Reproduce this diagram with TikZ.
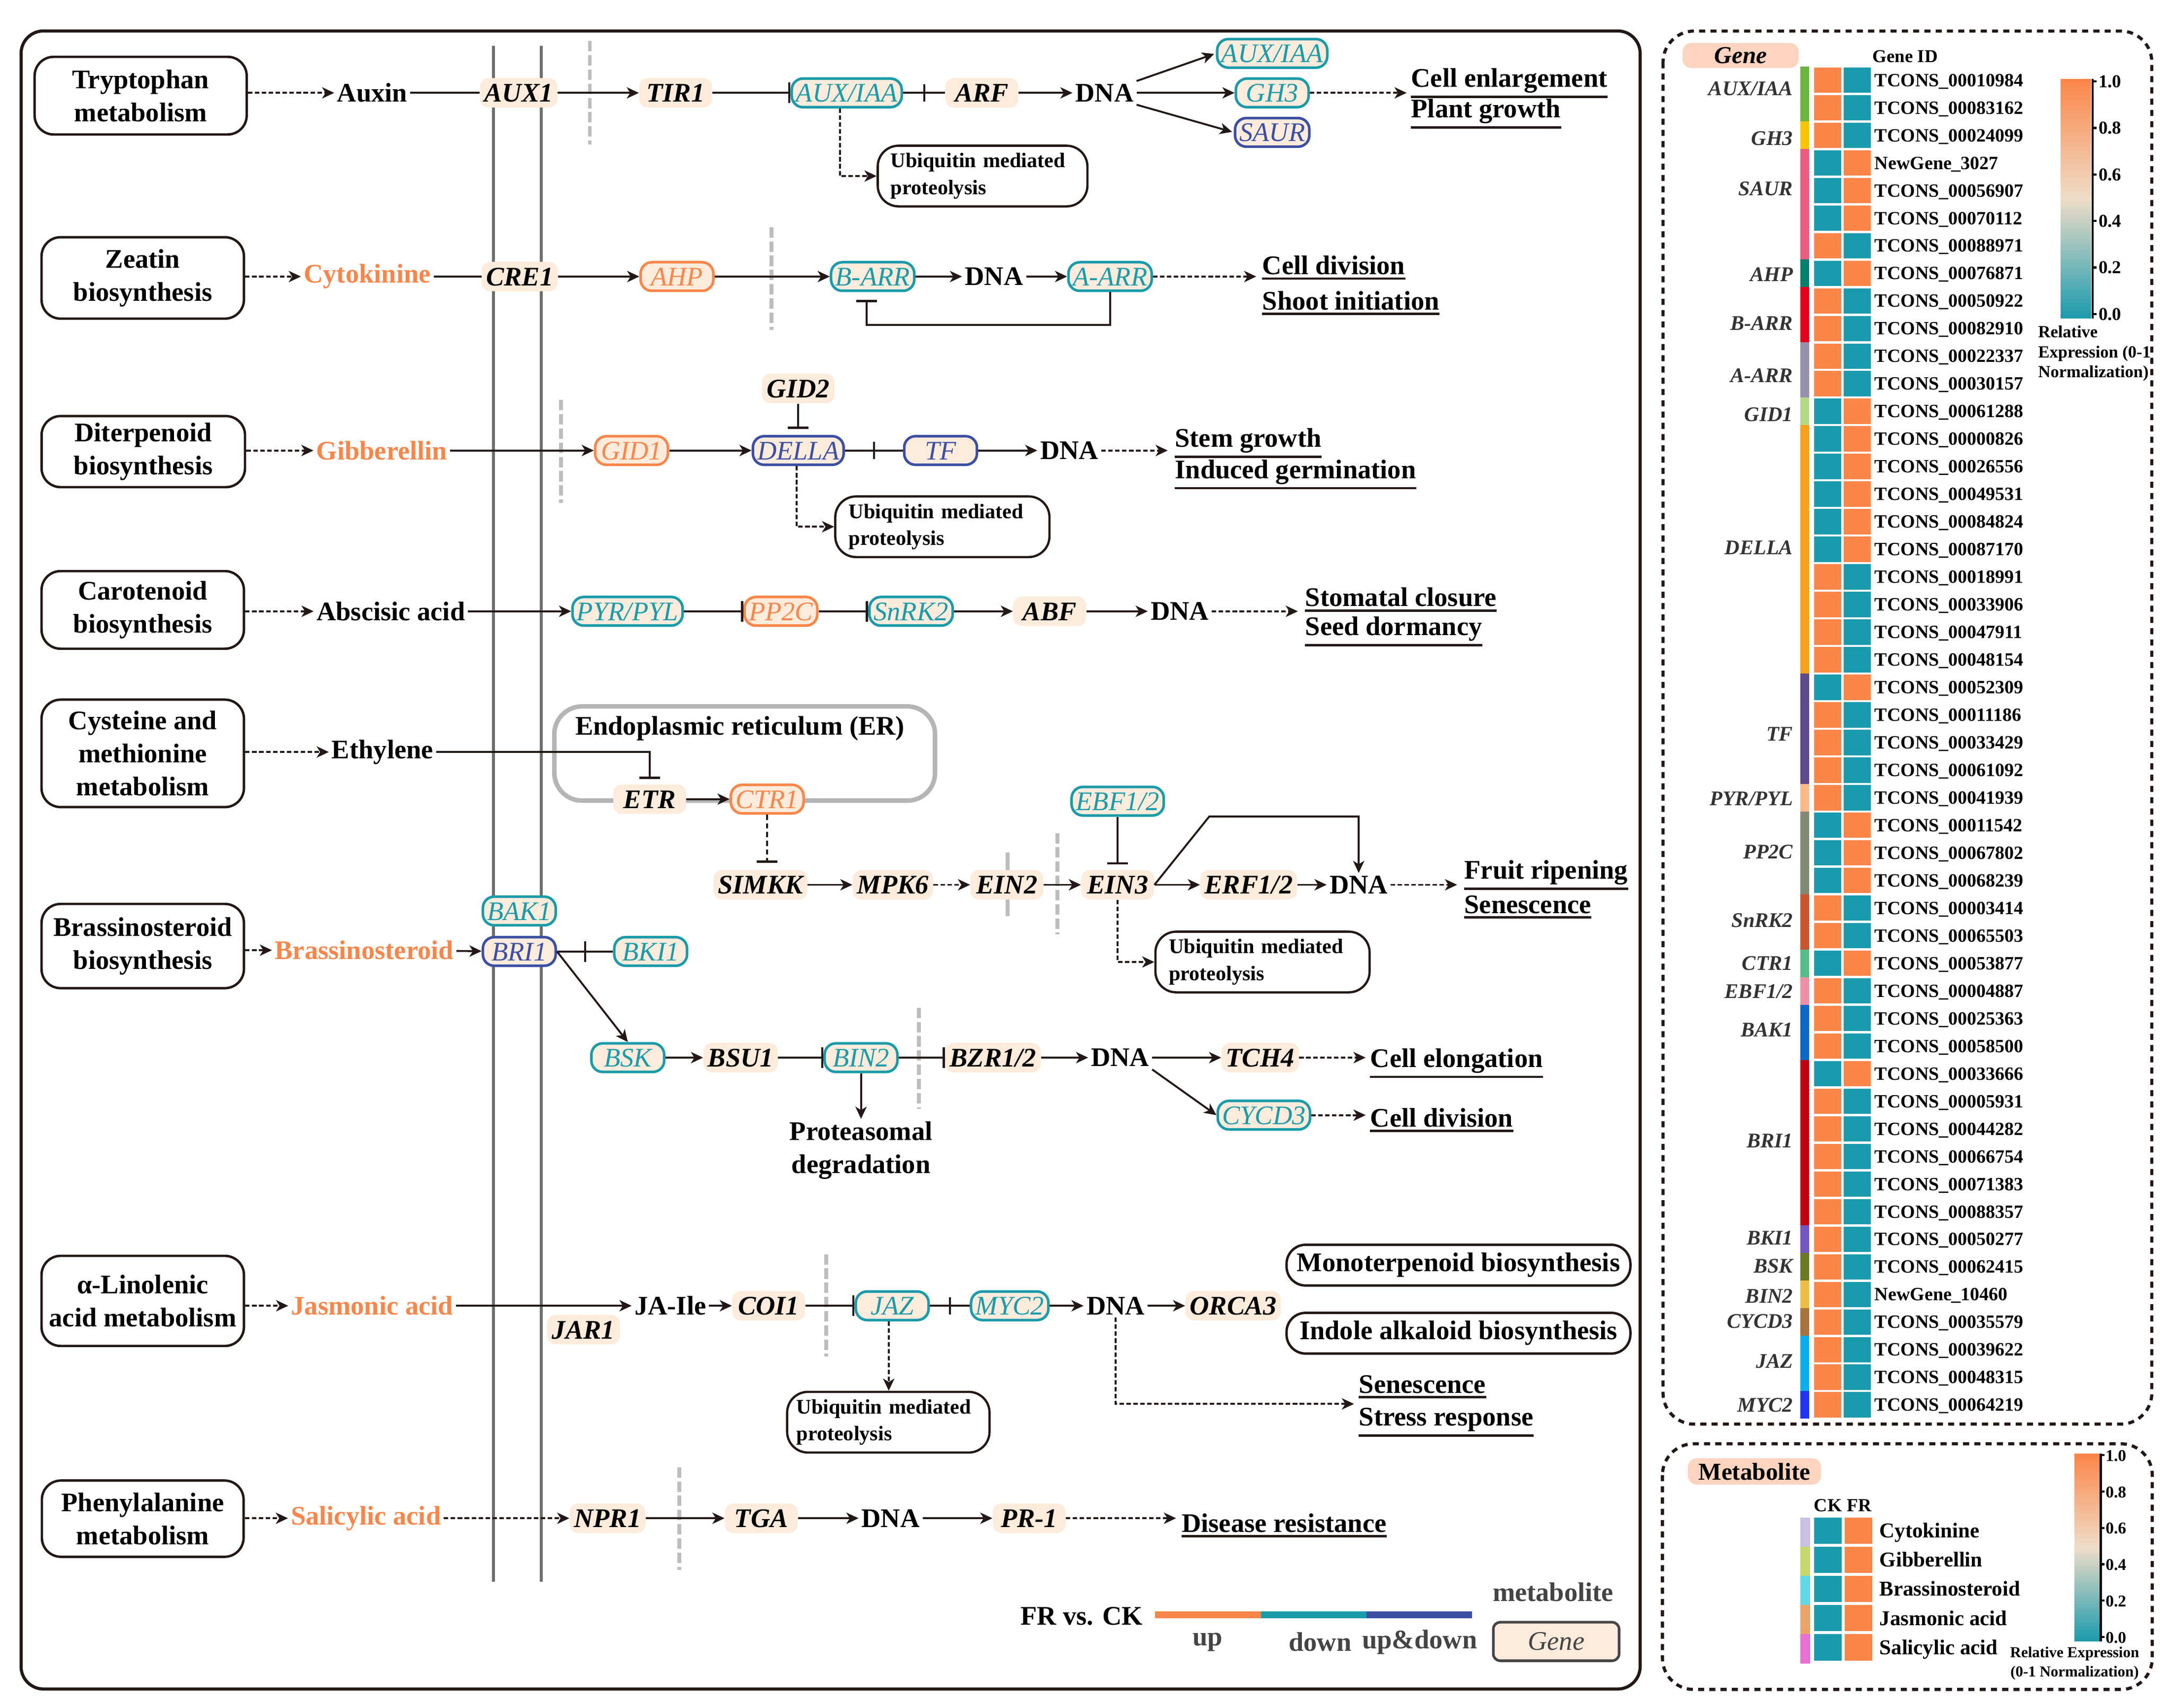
\documentclass[tikz,border=0pt]{standalone}
\usepackage{fontspec}
\setmainfont{Liberation Serif}
\usetikzlibrary{arrows.meta,calc}

\definecolor{dark}{HTML}{231815}
\definecolor{orng}{HTML}{F8864A}
\definecolor{tealc}{HTML}{1A9BAA}
\definecolor{blu}{HTML}{3C4FA4}
\definecolor{peach}{HTML}{FDEBDB}
\definecolor{pillc}{HTML}{FDD4C0}
\definecolor{hmO}{HTML}{FC8548}
\definecolor{hmT}{HTML}{1A9AAD}
\definecolor{cbmid}{HTML}{EFDDC8}
\definecolor{membc}{HTML}{6E6E6E}
\definecolor{gdc}{HTML}{BDBDBD}
\definecolor{ergc}{HTML}{B5B5B5}
\definecolor{glc}{HTML}{333333}
\definecolor{legc}{HTML}{444444}
\definecolor{sA}{HTML}{6DB33F}
\definecolor{sB}{HTML}{F7C600}
\definecolor{sC}{HTML}{E95D80}
\definecolor{sD}{HTML}{00806F}
\definecolor{sE}{HTML}{E2001A}
\definecolor{sF}{HTML}{9690AC}
\definecolor{sG}{HTML}{B4D986}
\definecolor{sH}{HTML}{F6A11B}
\definecolor{sI}{HTML}{5D4A88}
\definecolor{sJ}{HTML}{FAB98B}
\definecolor{sK}{HTML}{838A72}
\definecolor{sL}{HTML}{C9552F}
\definecolor{sM}{HTML}{55BD88}
\definecolor{sN}{HTML}{EF8FA7}
\definecolor{sO}{HTML}{0E68C6}
\definecolor{sP}{HTML}{C0000F}
\definecolor{sQ}{HTML}{7455C4}
\definecolor{sR}{HTML}{6B7A21}
\definecolor{sS}{HTML}{EDBE45}
\definecolor{sT}{HTML}{A8723D}
\definecolor{sU}{HTML}{0BAEEA}
\definecolor{sV}{HTML}{2134F0}
\definecolor{mA}{HTML}{C9C0E6}
\definecolor{mB}{HTML}{C5D86A}
\definecolor{mC}{HTML}{63D8E6}
\definecolor{mD}{HTML}{EBA468}
\definecolor{mE}{HTML}{E870D3}

\newcommand\myoutc[3]{\node[outc] (#1) at (#2) {#3}; \draw[ul] (#1.south west) -- (#1.south east);}
\newcommand\gradbar[4]{%
  \foreach \s in {0,...,59}{%
    \pgfmathsetmacro\ya{#2+(#4-#2)*\s/60}%
    \pgfmathsetmacro\yb{#2+(#4-#2)*min(\s+1.4,60)/60}%
    \ifnum\s<30
      \pgfmathsetmacro\pc{100*(1-(\s+0.5)/30)}%
      \fill[hmO!\pc!cbmid] (#1,\ya) rectangle (#3,\yb);
    \else
      \pgfmathsetmacro\pc{100*((\s+0.5)/30-1)}%
      \fill[hmT!\pc!cbmid] (#1,\ya) rectangle (#3,\yb);
    \fi
  }}

\begin{document}
\begin{tikzpicture}[x=0.02811cm,y=-0.02811cm,
  lbl/.style={font=\bfseries\fontsize{15.5}{19}\selectfont, inner sep=1.5pt, text=black},
  hor/.style={font=\bfseries\fontsize{15.5}{19}\selectfont, inner sep=1.5pt, text=orng},
  gene/.style={fill=peach, rounded corners=5pt, inner xsep=2.5pt, inner ysep=0pt, minimum width=42pt, minimum height=17pt, text height=10.8pt, text depth=0.3pt, font=\bfseries\itshape\fontsize{15.5}{19}\selectfont},
  tb/.style={gene, draw=tealc, line width=1.5pt, text=tealc, rounded corners=6.5pt, font=\itshape\fontsize{15.5}{19}\selectfont, minimum height=16.5pt},
  ob/.style={tb, draw=orng, text=orng},
  bb/.style={tb, draw=blu, text=blu},
  pbox/.style={draw=dark, line width=1.4pt, rounded corners=11pt, align=center, inner sep=2pt, font=\bfseries\fontsize{15.5}{19}\selectfont},
  ubq/.style={draw=dark, line width=1.3pt, rounded corners=12pt, align=left, text width=106pt, inner xsep=7.5pt, inner ysep=2pt, minimum height=35pt, font=\bfseries\fontsize{12}{15.5}\selectfont},
  outc/.style={anchor=base west, inner xsep=0pt, inner ysep=2pt, font=\bfseries\fontsize{15.5}{19}\selectfont},
  ul/.style={line width=1.3pt, draw=dark},
  arr/.style={draw=dark, line width=1.1pt, -{Stealth[length=7pt,width=6.5pt,inset=2pt]}},
  darr/.style={arr, dash pattern=on 2.6pt off 1.4pt},
  ln/.style={draw=dark, line width=1.1pt},
  inh/.style={draw=dark, line width=1.1pt, -{Bar[width=12pt,line width=1.3pt]}},
  dinh/.style={inh, dash pattern=on 3pt off 2pt},
  memb/.style={draw=membc, line width=1.8pt},
  gdash/.style={draw=gdc, line width=2.2pt, dash pattern=on 6pt off 2.2pt},
  glab/.style={anchor=east, font=\bfseries\itshape\fontsize{12}{14}\selectfont, text=glc, inner sep=0pt, text height=8pt, text depth=0pt},
  idf/.style={anchor=west, font=\bfseries\fontsize{10.8}{12}\selectfont, inner sep=0pt, text height=7.2pt, text depth=0pt},
  tick/.style={anchor=west, font=\bfseries\fontsize{10.5}{12}\selectfont, inner sep=0.5pt, text height=7pt, text depth=0pt},
  mlab/.style={anchor=west, font=\bfseries\fontsize{12.2}{14}\selectfont, inner sep=0pt, text height=8.2pt, text depth=0pt},
  leg/.style={font=\bfseries\fontsize{15.5}{19}\selectfont, inner sep=1pt, text=legc}
]
\useasboundingbox (0,0) rectangle (1568,1232);
\fill[white] (0,0) rectangle (1568,1232);

% ---------- frames ----------
\draw[draw=dark, line width=1.8pt, rounded corners=13pt] (15.2,22.3) rectangle (1183.5,1218.5);
\draw[draw=dark, line width=1.8pt, dash pattern=on 3.5pt off 3pt, rounded corners=18pt] (1200,22.4) rectangle (1552.7,1027.4);
\draw[draw=dark, line width=1.8pt, dash pattern=on 3.5pt off 3pt, rounded corners=18pt] (1199.6,1041.6) rectangle (1553,1218.8);

% ---------- membranes and separators ----------
\draw[memb] (356.1,33) -- (356.1,1141);
\draw[memb] (390.5,33) -- (390.5,1141);
\draw[gdash] (425.6,29.6) -- (425.6,104.3);
\draw[gdash] (556.8,163.9) -- (556.8,237.9);
\draw[gdash] (404.8,288.6) -- (404.8,362.7);
\draw[gdash] (763,601) -- (763,674);
\draw[gdash] (663,727) -- (663,800);
\draw[gdash] (596.3,904.8) -- (596.3,978.6);
\draw[gdash] (490.2,1058.5) -- (490.2,1132.7);
\draw[draw=gdc, line width=2.2pt] (727,615) -- (727,661);
\draw[draw=ergc, line width=2.6pt, rounded corners=16pt] (400,509.6) rectangle (674.7,577.6);
\node[lbl, anchor=west] (ertxt) at (413,525.5) {Endoplasmic reticulum (ER)};

% ---------- row 1: auxin ----------
\node[pbox, minimum width=122.4pt, minimum height=44.8pt] (b1) at (101.5,69) {Tryptophan\\metabolism};
\node[lbl] (auxin) at (268.6,67) {Auxin};
\node[gene] (aux1) at (374.3,67) {AUX1};
\node[gene] (tir1) at (487.5,67) {TIR1};
\node[tb] (iaa1) at (611,67) {AUX/IAA};
\node[gene] (arf) at (708.5,67) {ARF};
\node[lbl] (dna1) at (797,67) {DNA};
\node[tb] (iaa2) at (918,38.5) {AUX/IAA};
\node[tb] (gh3) at (918,67) {GH3};
\node[bb] (saur) at (918,95.5) {SAUR};
\myoutc{o1a}{1018,62.8}{Cell enlargement}
\myoutc{o1b}{1018,85}{Plant growth}
\coordinate (t1) at (1015,67);
\node[ubq] (u1) at (709,127) {Ubiquitin mediated\\proteolysis};

\draw[darr] (b1.east |- auxin) -- (auxin.west);
\draw[ln] (auxin) -- (aux1);
\draw[arr] (aux1) -- (tir1);
\draw[inh] (tir1) -- (iaa1);
\draw[ln] (iaa1) -- coordinate (m1) (arf);
\draw[ln] ([yshift=5pt]m1) -- ([yshift=-5pt]m1);
\draw[arr] (arf) -- (dna1);
\draw[arr, shorten >=1pt] (dna1.north east) -- (iaa2.west);
\draw[arr] (dna1) -- (gh3);
\draw[arr, shorten >=1pt] (dna1.south east) -- (saur.west);
\draw[darr] (gh3) -- (t1);
\draw[darr] ([xshift=-4pt]iaa1.south) |- (u1.west);

% ---------- row 2: cytokinin ----------
\node[pbox, minimum width=116.8pt, minimum height=47pt] (b2) at (103,200.5) {Zeatin\\biosynthesis};
\node[hor] (cyto) at (265,199.5) {Cytokinine};
\node[gene] (cre1) at (375,199.5) {CRE1};
\node[ob] (ahp) at (488.5,199.5) {AHP};
\node[tb] (barr) at (629.7,199.5) {B-ARR};
\node[lbl] (dna2) at (717.3,199.5) {DNA};
\node[tb] (aarr) at (801,199.5) {A-ARR};
\myoutc{o2a}{910.7,198}{Cell division}
\myoutc{o2b}{910.7,223.5}{Shoot initiation}
\coordinate (t2) at (906.5,199.5);
\coordinate (fb2) at (625.4,234.5);

\draw[darr] (b2.east |- cyto) -- (cyto.west);
\draw[ln] (cyto) -- (cre1);
\draw[arr] (cre1) -- (ahp);
\draw[arr] (ahp) -- (barr);
\draw[arr] (barr) -- (dna2);
\draw[arr] (dna2) -- (aarr);
\draw[darr] (aarr) -- (t2);
\draw[inh] (aarr.south) |- (fb2) -- ++(0,-18.2);

% ---------- row 3: gibberellin ----------
\node[pbox, minimum width=117.4pt, minimum height=41pt] (b3) at (103.4,325.8) {Diterpenoid\\biosynthesis};
\node[hor] (gib) at (275.5,325) {Gibberellin};
\node[ob] (gid1) at (455.7,325) {GID1};
\node[bb] (della) at (576,325) {DELLA};
\node[gene] (gid2) at (576,280.3) {GID2};
\node[bb] (tf) at (678.7,325) {TF};
\node[lbl] (dna3) at (771.6,325) {DNA};
\myoutc{o3a}{847.6,322.5}{Stem growth}
\myoutc{o3b}{847.6,345.1}{Induced germination}
\coordinate (t3) at (842.6,325);
\node[ubq, text width=108pt, inner xsep=7.8pt] (u2) at (680,380) {Ubiquitin mediated\\proteolysis};

\draw[darr] (b3.east |- gib) -- (gib.west);
\draw[arr] (gib) -- (gid1);
\draw[arr] (gid1) -- (della);
\draw[inh, shorten >=3.5pt] (gid2) -- (della);
\draw[ln] (della) -- coordinate (m3) (tf);
\draw[ln] ([yshift=5pt]m3) -- ([yshift=-5pt]m3);
\draw[arr] (tf) -- (dna3);
\draw[darr] (dna3) -- (t3);
\draw[darr] ([xshift=-1pt]della.south) |- (u2.west);

% ---------- row 4: ABA ----------
\node[pbox, minimum width=116.8pt, minimum height=44.8pt] (b4) at (103,440) {Carotenoid\\biosynthesis};
\node[lbl] (aba) at (282,441) {Abscisic acid};
\node[tb] (pyr) at (452.8,441) {PYR/PYL};
\node[ob] (pp2c) at (563.5,441) {PP2C};
\node[tb] (snrk2) at (657.4,441) {SnRK2};
\node[gene] (abf) at (757.4,441) {ABF};
\node[lbl] (dna4) at (851.3,441) {DNA};
\myoutc{o4a}{941.6,437.5}{Stomatal closure}
\myoutc{o4b}{941.6,458.5}{Seed dormancy}
\coordinate (t4) at (936.5,441);

\draw[darr] (b4.east |- aba) -- (aba.west);
\draw[arr] (aba) -- (pyr);
\draw[inh] (pyr) -- (pp2c);
\draw[inh] (pp2c) -- (snrk2);
\draw[arr] (snrk2) -- (abf);
\draw[arr] (abf) -- (dna4);
\draw[darr] (dna4) -- (t4);

% ---------- row 5: ethylene ----------
\node[pbox, minimum width=116.8pt, minimum height=62pt] (b5) at (103,543.5) {Cysteine and\\methionine\\metabolism};
\node[lbl] (eth) at (276,542.5) {Ethylene};
\node[gene] (etr) at (468.8,576.5) {ETR};
\node[ob] (ctr1) at (553.6,576.5) {CTR1};
\node[gene] (simkk) at (548.7,638.3) {SIMKK};
\node[gene] (mpk6) at (644.3,638.3) {MPK6};
\node[gene] (ein2) at (726.5,638.3) {EIN2};
\node[gene] (ein3) at (806.5,638.3) {EIN3};
\node[tb] (ebf) at (806.5,578) {EBF1/2};
\node[gene] (erf) at (901,638.3) {ERF1/2};
\node[lbl] (dna5) at (980.4,638.3) {DNA};
\myoutc{o5a}{1056.4,634.1}{Fruit ripening}
\myoutc{o5b}{1056.4,658.8}{Senescence}
\coordinate (t5) at (1051.4,638.3);
\coordinate (k5) at (872.6,589);
\node[ubq, text width=108pt, inner xsep=7.8pt] (u3) at (911,694) {Ubiquitin mediated\\proteolysis};

\draw[darr] (b5.east |- eth) -- (eth.west);
\draw[inh, shorten >=3pt] (eth.east) -| (etr.north);
\draw[arr] (etr) -- (ctr1);
\draw[dinh, shorten >=4pt] (ctr1.south) -- (ctr1.south |- simkk.north);
\draw[arr] (simkk) -- (mpk6);
\draw[darr] (mpk6) -- (ein2);
\draw[arr] (ein2) -- (ein3);
\draw[inh, shorten >=3pt] (ebf) -- (ein3);
\draw[arr] (ein3) -- (erf);
\draw[arr] (erf) -- (dna5);
\draw[arr] (ein3.east) -- (k5) -| (dna5.north);
\draw[darr] (dna5) -- (t5);
\draw[darr] (ein3.south) |- (u3.west);

% ---------- row 6: brassinosteroid ----------
\node[pbox, minimum width=116.8pt, minimum height=48.6pt] (b6) at (103,682.5) {Brassinosteroid\\biosynthesis};
\node[hor] (bras) at (262.8,685.5) {Brassinosteroid};
\node[bb] (bri1) at (374.7,686.4) {BRI1};
\node[tb] (bak1) at (374.7,657.2) {BAK1};
\node[tb] (bki1) at (469.5,686.4) {BKI1};
\node[tb] (bsk) at (453,763) {BSK};
\node[gene] (bsu1) at (534.4,763) {BSU1};
\node[tb] (bin2) at (621.3,763) {BIN2};
\node[gene] (bzr) at (716.5,763) {BZR1/2};
\node[lbl] (dna6) at (808.3,763) {DNA};
\node[gene] (tch4) at (909.3,763) {TCH4};
\node[tb] (cycd3) at (912,804.5) {CYCD3};
\node[lbl, align=center] (prot) at (621.3,830) {Proteasomal\\degradation};
\myoutc{o6a}{988.6,769.8}{Cell elongation}
\myoutc{o6b}{988.6,812.9}{Cell division}
\coordinate (t6a) at (985.4,763);
\coordinate (t6b) at (985.4,804.5);

\draw[darr] (b6.east |- bras) -- (bras.west);
\draw[arr] (bras) -- (bri1);
\draw[ln] (bri1) -- coordinate (m6) (bki1);
\draw[ln] ([yshift=6pt]m6) -- ([yshift=-6pt]m6);
\draw[arr] (bri1.east) -- (bsk.north);
\draw[arr] (bsk) -- (bsu1);
\draw[inh] (bsu1) -- (bin2);
\draw[inh] (bin2) -- (bzr);
\draw[arr] (bzr) -- (dna6);
\draw[arr] (dna6) -- (tch4);
\draw[arr] (dna6.south east) -- (cycd3.west);
\draw[darr] (tch4) -- (t6a);
\draw[darr] (cycd3) -- (t6b);
\draw[arr] (bin2) -- (prot);

% ---------- row 7: jasmonic acid ----------
\node[pbox, minimum width=116.8pt, minimum height=52pt] (b7) at (103,938.5) {α-Linolenic\\acid metabolism};
\node[hor] (jas) at (268.5,942) {Jasmonic acid};
\node[lbl] (jaile) at (483.7,942) {JA-Ile};
\node[gene] (jar1) at (421,959.2) {JAR1};
\node[gene] (coi1) at (554.6,942) {COI1};
\node[tb] (jaz) at (643.8,942) {JAZ};
\node[tb] (myc2) at (728.6,942) {MYC2};
\node[lbl] (dna7) at (805,942) {DNA};
\node[gene] (orca3) at (889.8,942) {ORCA3};
\node[pbox, minimum width=198.4pt, minimum height=23.5pt] (mono) at (1052.4,912.7) {Monoterpenoid biosynthesis};
\node[pbox, minimum width=198.4pt, minimum height=23.5pt] (indole) at (1052.4,961.8) {Indole alkaloid biosynthesis};
\node[ubq, inner xsep=5.4pt] (u4) at (641,1026) {Ubiquitin mediated\\proteolysis};
\myoutc{o7a}{980.4,1005}{Senescence}
\myoutc{o7b}{980.4,1028.7}{Stress response}
\coordinate (t7) at (977,1012.8);

\draw[darr] (b7.east |- jas) -- (jas.west);
\draw[arr] (jas) -- (jaile);
\draw[arr] (jaile) -- (coi1);
\draw[inh] (coi1) -- (jaz);
\draw[ln] (jaz) -- coordinate (m7) (myc2);
\draw[ln] ([yshift=5pt]m7) -- ([yshift=-5pt]m7);
\draw[arr] (myc2) -- (dna7);
\draw[arr] (dna7) -- (orca3);
\draw[darr] ([xshift=-2pt]jaz.south) -- ([xshift=-2pt]jaz.south |- u4.north);
\draw[darr] (dna7.south) |- (t7);

% ---------- row 8: salicylic acid ----------
\node[pbox, minimum width=116.4pt, minimum height=44pt] (b8) at (103,1095.6) {Phenylalanine\\metabolism};
\node[hor] (sal) at (264,1095.3) {Salicylic acid};
\node[gene] (npr1) at (438.4,1095.3) {NPR1};
\node[gene] (tga) at (549.3,1095.3) {TGA};
\node[lbl] (dna8) at (642.6,1095.3) {DNA};
\node[gene] (pr1) at (742.6,1095.3) {PR-1};
\myoutc{o8}{852.5,1105.3}{Disease resistance}
\coordinate (t8) at (848.6,1095.3);

\draw[darr] (b8.east |- sal) -- (sal.west);
\draw[darr] (sal) -- (npr1);
\draw[arr] (npr1) -- (tga);
\draw[arr] (tga) -- (dna8);
\draw[arr] (dna8) -- (pr1);
\draw[darr] (pr1) -- (t8);

% ---------- legend ----------
\node[lbl] (frck) at (780.5,1166) {FR vs. CK};
\draw[line width=4pt, draw=orng] (833.5,1165) -- (909.8,1165);
\draw[line width=4pt, draw=tealc] (909.8,1165) -- (986,1165);
\draw[line width=4pt, draw=blu] (986,1165) -- (1062.3,1165);
\node[leg] (lup) at (871.4,1184.6) {up};
\node[leg] (ldown) at (952.5,1184.6) {down};
\node[leg] (lud) at (1024.4,1184.6) {up\&down};
\node[leg] (lmet) at (1120.7,1148.7) {metabolite};
\node[draw=legc, line width=1.5pt, fill=peach, rounded corners=4pt, minimum width=72.6pt, minimum height=22.2pt, inner sep=0pt, text=legc, font=\itshape\fontsize{15.5}{19}\selectfont] (lgene) at (1122.9,1184.2) {Gene};

% ---------- gene heatmap ----------
\node[fill=pillc, rounded corners=5pt, minimum width=67pt, minimum height=14.4pt, inner sep=0pt, font=\bfseries\itshape\fontsize{14}{16}\selectfont] (genepill) at (1256,40) {Gene};
\node[anchor=west, inner sep=0pt, font=\bfseries\fontsize{10.5}{12}\selectfont] (geneid) at (1351,40.6) {Gene ID};

\foreach \a/\b/\col/\nm/\ly in {1/2/sA/{AUX/IAA}/64, 3/3/sB/GH3/99.7, 4/7/sC/SAUR/136, 8/8/sD/AHP/198, 9/10/sE/B-ARR/233, 11/12/sF/A-ARR/271, 13/13/sG/GID1/299, 14/22/sH/DELLA/395, 23/26/sI/TF/529.5, 27/27/sJ/{PYR/PYL}/576, 28/30/sK/PP2C/614.5, 31/32/sL/SnRK2/664, 33/33/sM/CTR1/695, 34/34/sN/{EBF1/2}/715, 35/36/sO/BAK1/743, 37/42/sP/BRI1/823, 43/43/sQ/BKI1/893, 44/44/sR/BSK/913.4, 45/45/sS/BIN2/935, 46/46/sT/CYCD3/953, 47/48/sU/JAZ/982, 49/49/sV/MYC2/1013.5} {
  \fill[\col] (1299,{57.8+(\a-1)*19.91-9.95}) rectangle (1305.5,{57.8+(\b-1)*19.91+9.95});
  \node[glab] at (1294,\ly) {\nm};
}

\foreach \c/\f/\id [count=\r from 0] in {
O/T/TCONS\_00010984, O/T/TCONS\_00083162, O/T/TCONS\_00024099, T/O/NewGene\_3027,
T/O/TCONS\_00056907, T/O/TCONS\_00070112, O/T/TCONS\_00088971, T/O/TCONS\_00076871,
O/T/TCONS\_00050922, O/T/TCONS\_00082910, O/T/TCONS\_00022337, O/T/TCONS\_00030157,
T/O/TCONS\_00061288, T/O/TCONS\_00000826, T/O/TCONS\_00026556, T/O/TCONS\_00049531,
T/O/TCONS\_00084824, T/O/TCONS\_00087170, O/T/TCONS\_00018991, O/T/TCONS\_00033906,
O/T/TCONS\_00047911, O/T/TCONS\_00048154, T/O/TCONS\_00052309, O/T/TCONS\_00011186,
O/T/TCONS\_00033429, O/T/TCONS\_00061092, O/T/TCONS\_00041939, T/O/TCONS\_00011542,
T/O/TCONS\_00067802, T/O/TCONS\_00068239, O/T/TCONS\_00003414, O/T/TCONS\_00065503,
T/O/TCONS\_00053877, O/T/TCONS\_00004887, O/T/TCONS\_00025363, O/T/TCONS\_00058500,
T/O/TCONS\_00033666, O/T/TCONS\_00005931, O/T/TCONS\_00044282, O/T/TCONS\_00066754,
O/T/TCONS\_00071383, O/T/TCONS\_00088357, O/T/TCONS\_00050277, O/T/TCONS\_00062415,
O/T/NewGene\_10460, O/T/TCONS\_00035579, O/T/TCONS\_00039622, O/T/TCONS\_00048315,
O/T/TCONS\_00064219} {
  \pgfmathsetmacro\yc{57.8+\r*19.91}
  \fill[hm\c] (1309,{\yc-9.15}) rectangle (1328.5,{\yc+9.15});
  \fill[hm\f] (1330.5,{\yc-9.15}) rectangle (1350,{\yc+9.15});
  \node[idf] (id\r) at (1352.5,\yc) {\id};
}

% gene colour bar
\gradbar{1487}{57}{1509}{229.8}
\draw[line width=1.4pt] (1510,57) -- (1510,229.8);
\foreach \tv [count=\n from 0] in {1.0,0.8,0.6,0.4,0.2,0.0} {
  \pgfmathsetmacro\ty{58.8+\n*33.54}
  \draw[line width=1.2pt] (1510,\ty) -- (1513,\ty);
  \node[tick] at (1513.5,\ty) {\tv};
}
\node[anchor=west, inner sep=0pt, align=left, font=\bfseries\fontsize{9.8}{11.6}\selectfont] (cbt1) at (1470.5,255) {Relative\\Expression (0-1\\Normalization)};

% ---------- metabolite heatmap ----------
\node[fill=pillc, rounded corners=5pt, minimum width=76.8pt, minimum height=15.2pt, inner sep=0pt, font=\bfseries\fontsize{14}{16}\selectfont] (metpill) at (1266,1061.5) {Metabolite};
\node[inner sep=0pt, font=\bfseries\fontsize{10.7}{12}\selectfont] (ck) at (1319,1086) {CK};
\node[inner sep=0pt, font=\bfseries\fontsize{10.7}{12}\selectfont] (fr) at (1341.5,1086) {FR};
\foreach \col/\nm [count=\r from 0] in {mA/Cytokinine, mB/Gibberellin, mC/Brassinosteroid, mD/Jasmonic acid, mE/Salicylic acid} {
  \pgfmathsetmacro\yt{1094.7+\r*21.07}
  \fill[\col] (1299,\yt) rectangle (1306,{\yt+21.07});
  \fill[hmT] (1309,\yt) rectangle (1329,{\yt+18.9});
  \fill[hmO] (1331,\yt) rectangle (1351,{\yt+18.9});
  \node[mlab] (met\r) at (1356,{\yt+9.45}) {\nm};
}
\gradbar{1497}{1048.7}{1515}{1184.3}
\draw[line width=1.4pt] (1516,1048.7) -- (1516,1184.3);
\foreach \tv [count=\n from 0] in {1.0,0.8,0.6,0.4,0.2,0.0} {
  \pgfmathsetmacro\ty{1049.7+\n*26.26}
  \draw[line width=1.2pt] (1516,\ty) -- (1518.5,\ty);
  \node[tick, font=\bfseries\fontsize{9.5}{11}\selectfont] at (1518.5,\ty) {\tv};
}
\node[inner sep=0pt, align=center, font=\bfseries\fontsize{8.8}{11}\selectfont] (cbt2) at (1497,1200) {Relative Expression\\(0-1 Normalization)};

\end{tikzpicture}
\end{document}
